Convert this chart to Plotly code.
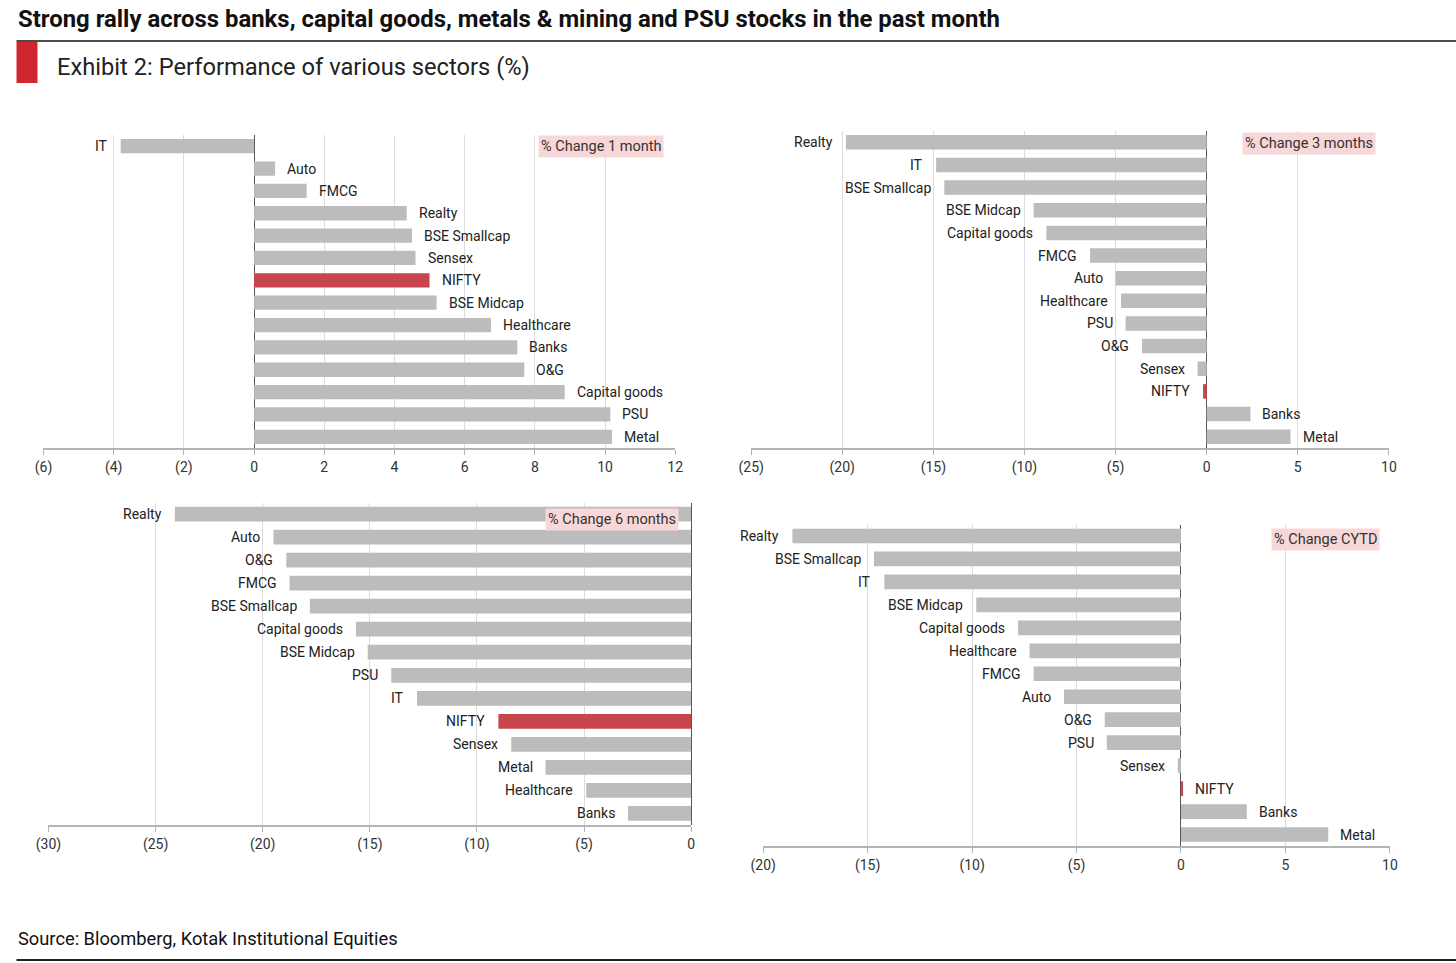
import plotly.graph_objects as go

W, H = 1456, 963

# ---------------- data ----------------
cats_1m = ["IT", "Auto", "FMCG", "Realty", "BSE Smallcap", "Sensex", "NIFTY", "BSE Midcap",
           "Healthcare", "Banks", "O&G", "Capital goods", "PSU", "Metal"]
vals_1m = [-3.8, 0.6, 1.5, 4.35, 4.5, 4.6, 5.0, 5.2, 6.75, 7.5, 7.7, 8.85, 10.15, 10.2]

cats_3m = ["Realty", "IT", "BSE Smallcap", "BSE Midcap", "Capital goods", "FMCG", "Auto",
           "Healthcare", "PSU", "O&G", "Sensex", "NIFTY", "Banks", "Metal"]
vals_3m = [-19.8, -14.85, -14.4, -9.5, -8.8, -6.4, -5.0, -4.7, -4.45, -3.55, -0.5, -0.2, 2.4, 4.6]

cats_6m = ["Realty", "Auto", "O&G", "FMCG", "BSE Smallcap", "Capital goods", "BSE Midcap",
           "PSU", "IT", "NIFTY", "Sensex", "Metal", "Healthcare", "Banks"]
vals_6m = [-24.1, -19.5, -18.9, -18.75, -17.8, -15.65, -15.1, -14.0, -12.8, -9.0, -8.4, -6.8, -4.9, -2.95]

cats_ytd = ["Realty", "BSE Smallcap", "IT", "BSE Midcap", "Capital goods", "Healthcare", "FMCG",
            "Auto", "O&G", "PSU", "Sensex", "NIFTY", "Banks", "Metal"]
vals_ytd = [-18.6, -14.7, -14.2, -9.8, -7.8, -7.25, -7.05, -5.6, -3.65, -3.55, -0.15, 0.1, 3.15, 7.05]

panel_titles = ["% Change 1 month", "% Change 3 months", "% Change 6 months", "% Change CYTD"]

ticks_1m = [-6, -4, -2, 0, 2, 4, 6, 8, 10, 12]
ticks_3m = [-25, -20, -15, -10, -5, 0, 5, 10]
ticks_6m = [-30, -25, -20, -15, -10, -5, 0]
ticks_ytd = [-20, -15, -10, -5, 0, 5, 10]

highlight = "NIFTY"

# ---------------- styling / layout ----------------
GRAY = "#bcbcbc"
RED = "#c8464b"
FONT = "Roboto"


def PX(x):
    # horizontal pixel -> paper fraction (compensates the capture's horizontal mapping)
    return ((x - 11.5) / 0.986) / W


def PY(y):
    return 1 - y / H


# pixel boxes: (x0, x1, ytop, ybottom)
boxes = [
    (42, 674, 135, 448),
    (750, 1388, 131, 448),
    (47, 690, 502.5, 825),
    (762, 1389, 524.5, 846),
]
legend_pos = [(600, 146.5), (1308.5, 143), (611, 519.5), (1325, 539)]

panels = [
    (cats_1m, vals_1m, ticks_1m),
    (cats_3m, vals_3m, ticks_3m),
    (cats_6m, vals_6m, ticks_6m),
    (cats_ytd, vals_ytd, ticks_ytd),
]


def tick_text(v):
    return f"({abs(v)})" if v < 0 else f"{v}"


fig = go.Figure()
annotations = []
layout_axes = {}

for i, ((cats, vals, ticks), (x0, x1, yt, yb)) in enumerate(zip(panels, boxes)):
    n = i + 1
    xa = "x" if n == 1 else f"x{n}"
    ya = "y" if n == 1 else f"y{n}"
    colors = [RED if c == highlight else GRAY for c in cats]
    fig.add_trace(go.Bar(
        x=vals, y=cats, orientation="h", marker=dict(color=colors, line=dict(width=0)),
        xaxis=xa, yaxis=ya, showlegend=False, hoverinfo="x+y",
    ))
    layout_axes[f"xaxis{'' if n == 1 else n}"] = dict(
        domain=[PX(x0), PX(x1)], anchor=ya, range=[ticks[0], ticks[-1]],
        tickvals=ticks, ticktext=[tick_text(t) for t in ticks],
        showgrid=True, gridcolor="#dcdcdc", gridwidth=1,
        zeroline=True, zerolinecolor="#555555", zerolinewidth=1,
        showline=True, linecolor="#b4b4b4", linewidth=1.5,
        ticks="outside", ticklen=5, tickcolor="#b4b4b4", tickwidth=1,
        tickfont=dict(family=FONT, size=14, color="#333333"), fixedrange=True,
    )
    layout_axes[f"yaxis{'' if n == 1 else n}"] = dict(
        domain=[PY(yb), PY(yt)], anchor=xa, type="category",
        categoryorder="array", categoryarray=cats,
        range=[len(cats) - 0.5, -0.5], showticklabels=False, showgrid=False,
        zeroline=False, showline=False, ticks="", fixedrange=True,
    )
    for c, v in zip(cats, vals):
        annotations.append(dict(
            x=v, y=c, xref=xa, yref=ya, text=c, showarrow=False,
            xanchor="left" if v >= 0 else "right", xshift=10 if v >= 0 else -11,
            font=dict(family=FONT, size=14, color="#222222"),
        ))
    lx, ly = legend_pos[i]
    annotations.append(dict(
        x=PX(lx), y=PY(ly), xref="paper", yref="paper", text=panel_titles[i],
        showarrow=False, xanchor="center", yanchor="middle", bgcolor="#f8d7d8",
        borderpad=2, font=dict(family=FONT, size=14.5, color="#333333"),
    ))

# Header / footer texts
annotations.append(dict(
    x=PX(15), y=PY(19), xref="paper", yref="paper", xanchor="left", yanchor="middle",
    text="<b>Strong rally across banks, capital goods, metals & mining and PSU stocks in the past month</b>",
    showarrow=False, font=dict(family="Roboto", size=23.9, color="#111111"),
))
annotations.append(dict(
    x=PX(54), y=PY(67), xref="paper", yref="paper", xanchor="left", yanchor="middle",
    text="Exhibit 2: Performance of various sectors (%)",
    showarrow=False, font=dict(family="Roboto", size=23.7, color="#222222"),
))
annotations.append(dict(
    x=PX(15), y=PY(938), xref="paper", yref="paper", xanchor="left", yanchor="middle",
    text="Source: Bloomberg, Kotak Institutional Equities",
    showarrow=False, font=dict(family="Roboto", size=18.3, color="#111111"),
))

shapes = [
    dict(type="line", xref="paper", yref="paper", x0=PX(15), x1=1.02, y0=PY(41), y1=PY(41),
         line=dict(color="#111111", width=1.5)),
    dict(type="rect", xref="paper", yref="paper", x0=PX(15), x1=PX(36), y0=PY(83), y1=PY(42),
         fillcolor="#d0262d", line=dict(width=0)),
    dict(type="line", xref="paper", yref="paper", x0=PX(15), x1=1.02, y0=PY(960), y1=PY(960),
         line=dict(color="#222222", width=2)),
]

fig.update_layout(
    width=W, height=H, margin=dict(l=0, r=0, t=0, b=0),
    paper_bgcolor="white", plot_bgcolor="white", bargap=0.36,
    annotations=annotations, shapes=shapes, **layout_axes,
)

fig.write_html(
    "out.html", config={"displayModeBar": False},
    post_script="document.body.style.margin='0';document.body.style.overflow='hidden';",
)
